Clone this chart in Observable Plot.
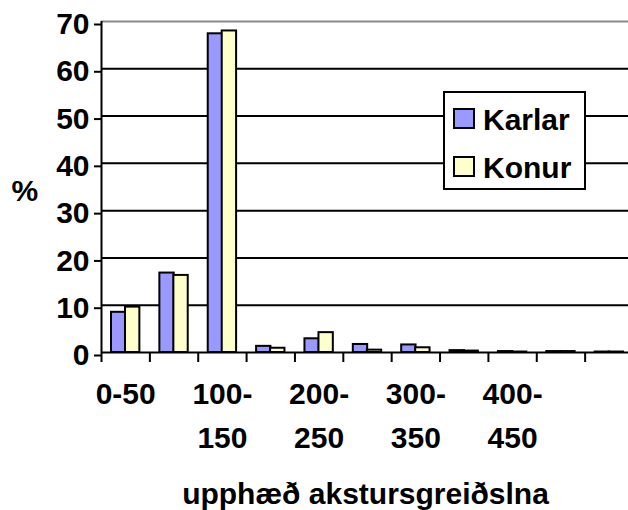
<!DOCTYPE html>
<html>
<head>
<meta charset="utf-8">
<script src="https://cdn.jsdelivr.net/npm/d3@7"></script>
<script src="https://cdn.jsdelivr.net/npm/@observablehq/plot@0.6"></script>
<style>
  html, body { margin: 0; padding: 0; background: #fff; overflow: hidden; }
  #wrap { position: relative; width: 628px; height: 510px; font-family: "Liberation Sans", Arial, sans-serif; }
  #legend { position: absolute; left: 443px; top: 91px; width: 139px; height: 95px; border: 2px solid #000; background: #fff; }
  .item { position: absolute; left: 8px; font-size: 30px; font-weight: bold; line-height: 30px; color: #000; }
  .sw { position: absolute; width: 18px; height: 17px; border: 2px solid #000; }
  .lab { position: absolute; left: 30px; top: 0; white-space: nowrap; }
</style>
</head>
<body>
<div id="wrap"><div id="chart"></div><div id="legend"></div></div>
<script>
const categories = ["0-50","50-100","100-150","150-200","200-250","250-300","300-350","350-400","400-450","450-500","500-"];
const tickLabels = ["0-50","","100-\n150","","200-\n250","","300-\n350","","400-\n450","",""];
const karlar = [8.5, 16.8, 67.4, 1.3, 2.9, 1.7, 1.6, 0.4, 0.2, 0.2, 0.1];
const konur  = [9.6, 16.3, 68.0, 0.9, 4.2, 0.5, 1.0, 0.3, 0.1, 0.2, 0.1];
const series = ["Karlar", "Konur"];
const colors = ["#9999FF", "#FFFFCC"];
const yTicks = [0, 10, 20, 30, 40, 50, 60, 70];
const yLabel = "%";
const xTitle = "upphæð akstursgreiðslna";

const rows = categories.map((c, i) => ({i, cat: c, karlar: karlar[i], konur: konur[i]}));
const font = "Liberation Sans, Arial, sans-serif";

const chart = Plot.plot({
  width: 628,
  height: 510,
  marginTop: 21,
  marginBottom: 158,
  marginLeft: 101,
  marginRight: -5,
  style: {fontFamily: font, overflow: "hidden", background: "#fff"},
  x: {type: "linear", domain: [0, categories.length], axis: null},
  y: {type: "linear", domain: [0, 70], axis: null},
  marks: [
    Plot.ruleY(yTicks.filter(t => t > 0 && t < 70), {stroke: "#000", strokeWidth: 2}),
    Plot.ruleY([70], {stroke: "#888", strokeWidth: 2}),
    Plot.rect(rows, {x1: "i", x2: d => d.i + 1, y1: 0, y2: "karlar", fill: colors[0], stroke: "#000", strokeWidth: 2, insetLeft: 10, insetRight: 24}),
    Plot.rect(rows, {x1: "i", x2: d => d.i + 1, y1: 0, y2: "konur", fill: colors[1], stroke: "#000", strokeWidth: 2, insetLeft: 24, insetRight: 10}),
    Plot.ruleY([0], {stroke: "#000", strokeWidth: 2}),
    Plot.ruleX([0], {stroke: "#000", strokeWidth: 2}),
    Plot.axisX({ticks: d3.range(0, categories.length + 1), tickFormat: () => "", tickSize: 10, stroke: "#000", strokeWidth: 2, label: null}),
    Plot.axisY({ticks: yTicks, tickSize: 7, tickPadding: 5, fontSize: 30, fontWeight: "bold", stroke: "#000", strokeWidth: 2, label: null, dy: 3}),
    Plot.text(rows, {x: d => d.i + 0.5, y: 0, text: (d, k) => tickLabels[k], lineAnchor: "top", dy: 21, lineHeight: 1.45, fontSize: 30, fontWeight: "bold", fill: "#000"}),
    Plot.text([yLabel], {frameAnchor: "left", dx: -90, dy: 4, fontSize: 30, fontWeight: "bold", fill: "#000"}),
    Plot.text([xTitle], {frameAnchor: "bottom", dy: 142, dx: -2, lineAnchor: "middle", fontSize: 30, fontWeight: "bold", fill: "#000"})
  ]
});
document.getElementById("chart").appendChild(chart);

const legend = document.getElementById("legend");
series.forEach((s, k) => {
  const item = document.createElement("div");
  item.className = "item";
  item.style.top = (12 + k * 48) + "px";
  const sw = document.createElement("div");
  sw.className = "sw";
  sw.style.background = colors[k];
  sw.style.top = "3px";
  const lab = document.createElement("div");
  lab.className = "lab";
  lab.textContent = s;
  item.appendChild(sw);
  item.appendChild(lab);
  legend.appendChild(item);
});
</script>
</body>
</html>
